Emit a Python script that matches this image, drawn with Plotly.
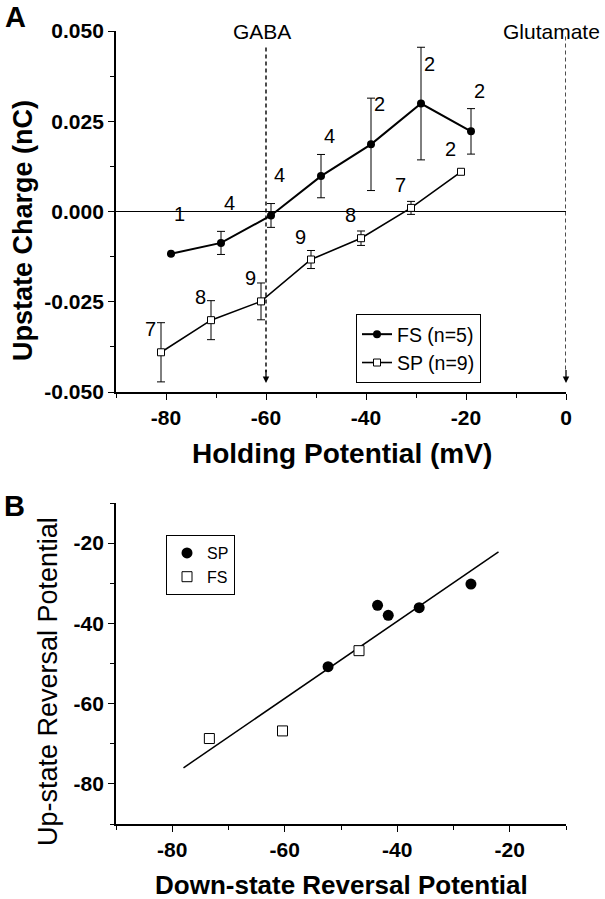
import plotly.graph_objects as go

W, H = 605, 899
FONT = "Liberation Sans, Arial, sans-serif"

# ---------------- Panel A data ----------------
fs_x = [-79, -69, -59, -49, -39, -29, -19]
fs_y = [-0.0117, -0.0087, -0.0011, 0.0098, 0.0186, 0.0299, 0.0222]
fs_err = [None, 0.0032, 0.0033, 0.0060, 0.0128, 0.0156, 0.0063]
fs_n = ["1", "4", "4", "4", "2", "2", "2"]

sp_x = [-81, -71, -61, -51, -41, -31, -21]
sp_y = [-0.0390, -0.0301, -0.0249, -0.0133, -0.0074, 0.0010, 0.0110]
sp_err = [0.0082, 0.0054, 0.0051, 0.0025, 0.0020, 0.0018, None]
sp_n = ["7", "8", "9", "9", "8", "7", "2"]

reversal_x = [-60, 0]
reversal_names = ["GABA", "Glutamate"]

a_xticks = [-80, -60, -40, -20, 0]
a_xticktext = ["-80", "-60", "-40", "-20", "0"]
a_xminor = [-90, -70, -50, -30, -10]
a_yticks = [-0.05, -0.025, 0.0, 0.025, 0.05]
a_yticktext = ["-0.050", "-0.025", "0.000", "0.025", "0.050"]
a_yminor = [-0.0375, -0.0125, 0.0125, 0.0375]

# ---------------- Panel B data ----------------
b_sp_x = [-52.3, -43.5, -41.6, -36.1, -26.9]
b_sp_y = [-50.8, -35.5, -38.0, -36.1, -30.2]
b_fs_x = [-73.4, -60.4, -46.8]
b_fs_y = [-68.7, -66.8, -46.8]
fit_x = [-78.0, -22.0]
fit_y = [-76.0, -22.2]

b_ticks = [-80, -60, -40, -20]
b_ticktext = ["-80", "-60", "-40", "-20"]
b_minor = [-90, -70, -50, -30, -10]


def px(x):
    return x / W


def py(y):
    return 1 - y / H


fig = go.Figure()

# Panel A traces
fig.add_trace(go.Scatter(
    x=fs_x, y=fs_y, mode="lines+markers", name="FS (n=5)",
    line=dict(color="black", width=2),
    marker=dict(symbol="circle", size=8, color="black"),
    error_y=dict(type="data", array=fs_err, visible=True, color="black",
                 thickness=1, width=4),
    xaxis="x", yaxis="y", legend="legend",
))
fig.add_trace(go.Scatter(
    x=sp_x, y=sp_y, mode="lines+markers", name="SP (n=9)",
    line=dict(color="black", width=1.6),
    marker=dict(symbol="square", size=7, color="white",
                line=dict(color="black", width=1)),
    error_y=dict(type="data", array=sp_err, visible=True, color="black",
                 thickness=1, width=4),
    xaxis="x", yaxis="y", legend="legend",
))

# Panel B traces
fig.add_trace(go.Scatter(
    x=fit_x, y=fit_y, mode="lines", showlegend=False,
    line=dict(color="black", width=1.5), xaxis="x2", yaxis="y2",
))
fig.add_trace(go.Scatter(
    x=b_sp_x, y=b_sp_y, mode="markers", name="SP",
    marker=dict(symbol="circle", size=11, color="black"),
    xaxis="x2", yaxis="y2", legend="legend2",
))
fig.add_trace(go.Scatter(
    x=b_fs_x, y=b_fs_y, mode="markers", name="FS",
    marker=dict(symbol="square", size=10, color="white",
                line=dict(color="black", width=1)),
    xaxis="x2", yaxis="y2", legend="legend2",
))

a_yrange = [-0.05, 0.05]
a_xrange = [-90, 0]

shapes = []
annotations = []
line_tops = [0.0454, 0.0485]
label_shift = [-4, -15]
for xv, name, top, sh in zip(reversal_x, reversal_names, line_tops, label_shift):
    tip = a_yrange[0] + 0.0025
    shapes.append(dict(type="line", xref="x", yref="y", x0=xv, x1=xv,
                       y0=top, y1=tip + 0.003,
                       line=dict(color="black", width=1.4, dash="4px,3px")))
    annotations.append(dict(x=xv, y=tip, ax=xv, ay=tip + 0.004, xref="x", yref="y",
                            axref="x", ayref="y", showarrow=True, arrowhead=2,
                            arrowsize=1, arrowwidth=1.3, arrowcolor="black", text=""))
    annotations.append(dict(x=xv, y=a_yrange[1], xref="x", yref="y", text=name,
                            showarrow=False, xshift=sh, yshift=-1,
                            xanchor="center", yanchor="middle",
                            font=dict(family=FONT, size=21, color="black")))

for xv, yv, t in zip(fs_x, fs_y, fs_n):
    annotations.append(dict(x=xv, y=yv, xref="x", yref="y", text=t, showarrow=False,
                            xshift=8, yshift=40, xanchor="center", yanchor="middle",
                            font=dict(family=FONT, size=20, color="black")))
for xv, yv, t in zip(sp_x, sp_y, sp_n):
    annotations.append(dict(x=xv, y=yv, xref="x", yref="y", text=t, showarrow=False,
                            xshift=-11, yshift=23, xanchor="center", yanchor="middle",
                            font=dict(family=FONT, size=20, color="black")))

# axis titles & panel letters
bold = dict(family=FONT, color="black", weight="bold")
title_specs = [
    ("Upstate Charge (nC)", 23, 231, -90, dict(bold, size=27)),
    ("Holding Potential (mV)", 342, 453, 0, dict(bold, size=28)),
    ("Up-state Reversal Potential", 48, 682, -90,
     dict(family=FONT, size=27, color="black")),
    ("Down-state Reversal Potential", 341, 885, 0, dict(bold, size=26)),
    ("A", 15, 17, 0, dict(bold, size=29)),
    ("B", 14, 506, 0, dict(bold, size=29)),
]
for text, xp, yp, ang, fnt in title_specs:
    annotations.append(dict(x=px(xp), y=py(yp), xref="paper", yref="paper", text=text,
                            textangle=ang, showarrow=False, xanchor="center",
                            yanchor="middle", font=fnt))

axis_common = dict(showline=True, linecolor="black", linewidth=1.8, mirror=False,
                   showgrid=False, zeroline=False, ticks="outside", ticklen=6,
                   tickwidth=1.4, tickcolor="black", automargin=False,
                   tickfont=dict(family=FONT, size=21, color="black", weight="bold"),
                   tickmode="array")
minor_common = dict(tickmode="array", ticks="outside", ticklen=4, tickwidth=1.2,
                    tickcolor="black")

xdom = [px(116), px(566)]

fig.update_layout(
    width=W, height=H, margin=dict(l=0, r=0, t=0, b=0, pad=0, autoexpand=False),
    paper_bgcolor="white", plot_bgcolor="white",
    xaxis=dict(axis_common, domain=xdom, range=a_xrange, anchor="y",
               tickvals=a_xticks, ticktext=a_xticktext,
               minor=dict(minor_common, tickvals=a_xminor)),
    yaxis=dict(axis_common, domain=[py(392), py(31)], range=a_yrange, anchor="x",
               tickvals=a_yticks, ticktext=a_yticktext,
               zeroline=True, zerolinecolor="black", zerolinewidth=1,
               minor=dict(minor_common, tickvals=a_yminor)),
    xaxis2=dict(axis_common, domain=xdom, range=[-90, -10], anchor="y2",
                tickvals=b_ticks, ticktext=b_ticktext,
                minor=dict(minor_common, tickvals=b_minor)),
    yaxis2=dict(axis_common, domain=[py(824), py(503)], range=[-90, -10], anchor="x2",
                tickvals=b_ticks, ticktext=b_ticktext,
                minor=dict(minor_common, tickvals=b_minor)),
    legend=dict(x=px(356), y=py(314), xanchor="left", yanchor="top",
                bordercolor="black", borderwidth=1, bgcolor="white",
                font=dict(family=FONT, size=19.5, color="black")),
    legend2=dict(x=px(166), y=py(535), xanchor="left", yanchor="top",
                 bordercolor="black", borderwidth=1, bgcolor="white",
                 font=dict(family=FONT, size=16, color="black")),
    shapes=shapes,
    annotations=annotations,
    showlegend=True,
)

fig.write_html("out.html", config={"displayModeBar": False},
               post_script="document.body.style.margin='0';document.body.style.padding='0';")
